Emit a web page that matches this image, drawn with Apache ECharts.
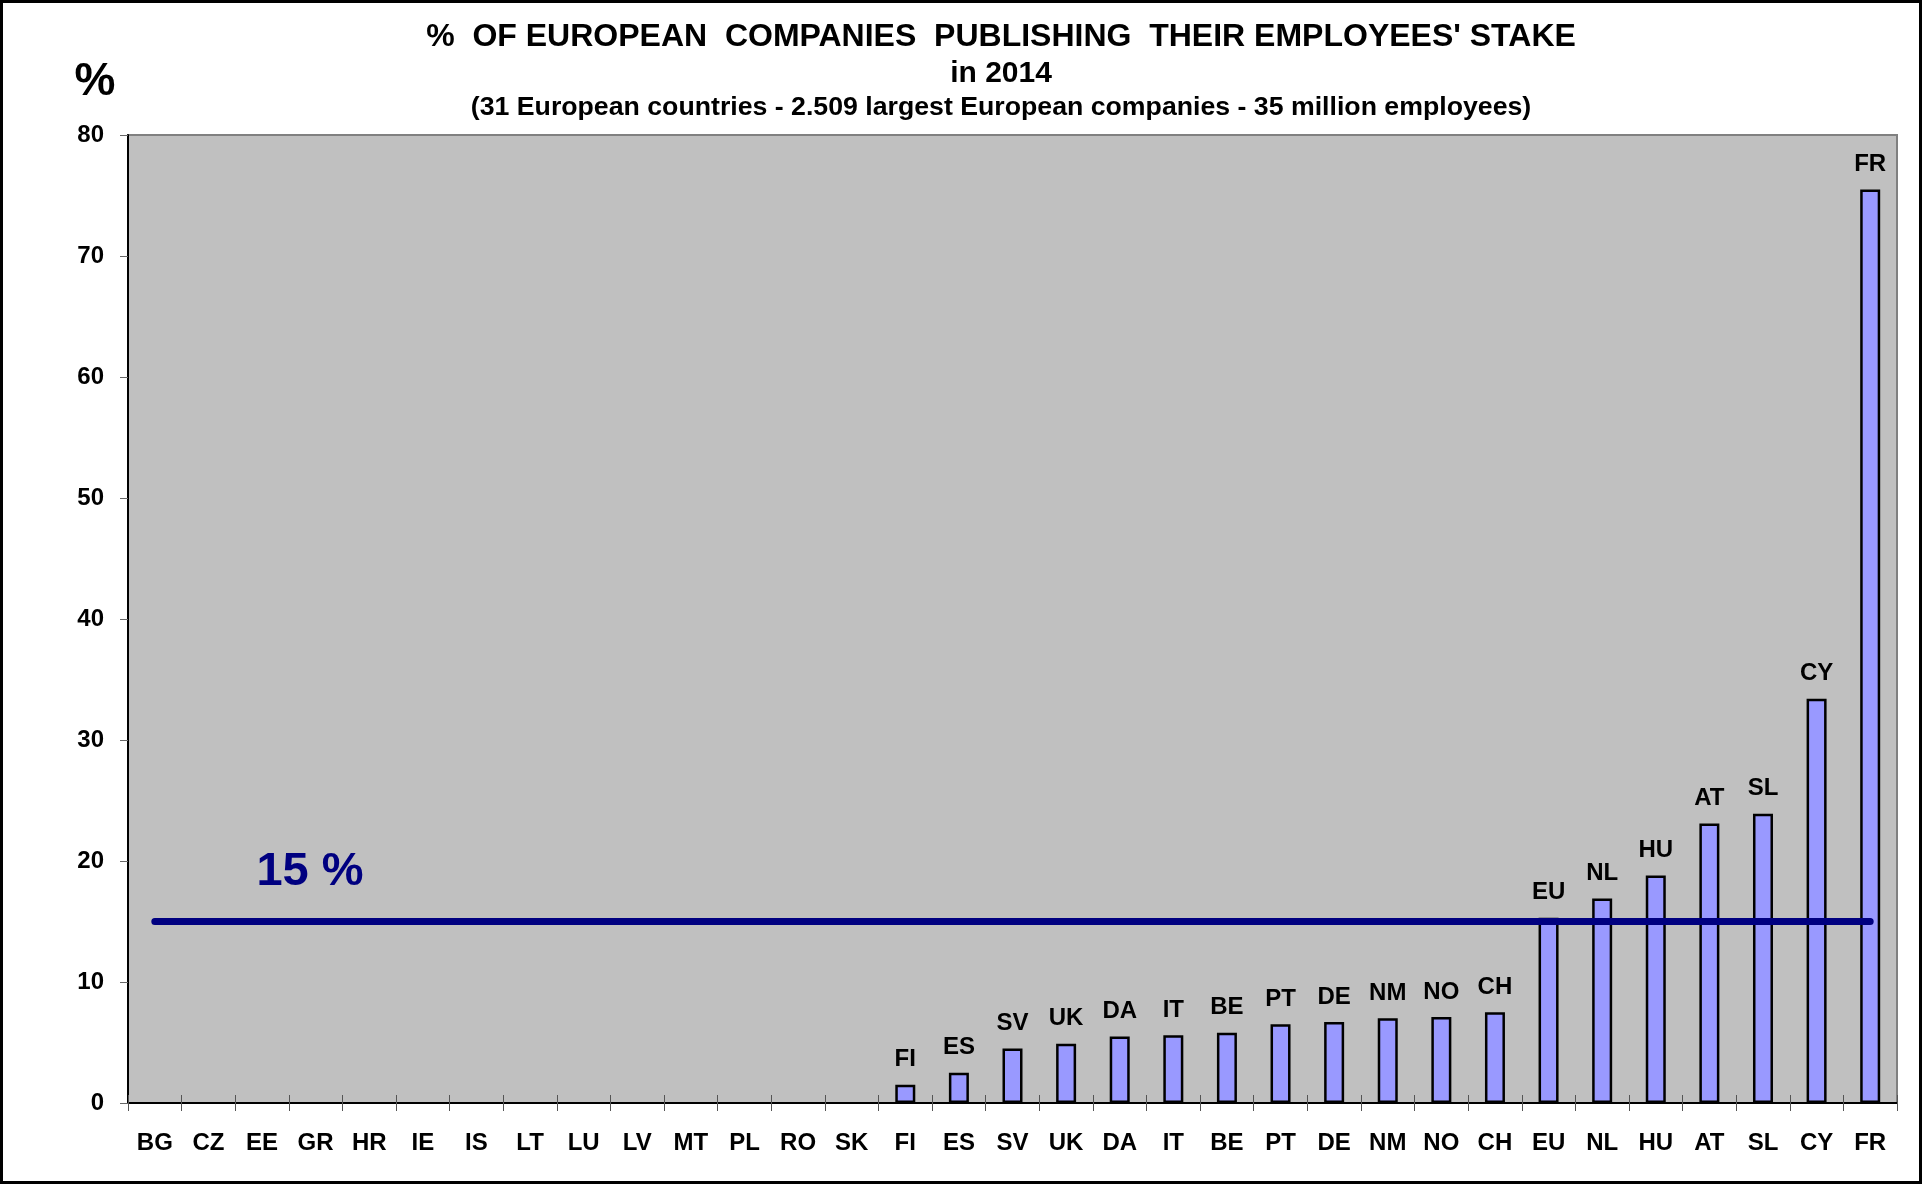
<!DOCTYPE html>
<html>
<head>
<meta charset="utf-8">
<script src="https://cdn.jsdelivr.net/npm/echarts@6/dist/echarts.min.js"></script>
<style>
html,body{margin:0;padding:0;background:#fff;}
#chart{width:1923px;height:1185px;}
</style>
</head>
<body>
<div id="chart"></div>
<script>
const categories = ['BG','CZ','EE','GR','HR','IE','IS','LT','LU','LV','MT','PL','RO','SK','FI','ES','SV','UK','DA','IT','BE','PT','DE','NM','NO','CH','EU','NL','HU','AT','SL','CY','FR'];
const shares = [0,0,0,0,0,0,0,0,0,0,0,0,0,0,1.5,2.5,4.5,4.9,5.5,5.6,5.8,6.5,6.7,7.0,7.1,7.5,15.3,16.9,18.8,23.1,23.9,33.4,75.5];
const threshold = [15,15,15,15,15,15,15,15,15,15,15,15,15,15,15,15,15,15,15,15,15,15,15,15,15,15,15,15,15,15,15,15,15];
const yTicks = {min:0, max:80, interval:10};
const titleText = "%  OF EUROPEAN  COMPANIES  PUBLISHING  THEIR EMPLOYEES' STAKE";
const titleLine2 = 'in 2014';
const subtitleText = '(31 European countries - 2.509 largest European companies - 35 million employees)';
const thresholdLabel = '15 %';

const F = 'Liberation Sans, Arial, sans-serif';
const chart = echarts.init(document.getElementById('chart'));
chart.setOption({
  backgroundColor:'#ffffff',
  animation:false,
  title:[
    {text:titleText, left:996, top:32, textAlign:'center', textVerticalAlign:'middle',
     textStyle:{fontFamily:F,fontWeight:'bold',fontSize:32,color:'#000'}},
    {text:titleLine2, left:996, top:69, textAlign:'center', textVerticalAlign:'middle',
     textStyle:{fontFamily:F,fontWeight:'bold',fontSize:30,color:'#000'}},
    {text:subtitleText, left:996, top:103, textAlign:'center', textVerticalAlign:'middle',
     textStyle:{fontFamily:F,fontWeight:'bold',fontSize:26.7,color:'#000'}}
  ],
  graphic:[
    {type:'rect', shape:{x:1.5,y:1.5,width:1919,height:1181}, style:{fill:'none',stroke:'#000',lineWidth:3}, z:100},
    {type:'text', x:95, y:82, style:{text:'%', fontFamily:F, fontWeight:'bold', fontSize:46, fill:'#000', align:'center', verticalAlign:'middle'}},
    {type:'text', x:310, y:872, style:{text:thresholdLabel, fontFamily:F, fontWeight:'bold', fontSize:47, fill:'#000080', align:'center', verticalAlign:'middle'}, z:50}
  ],
  grid:{left:128, right:26, top:135, bottom:82, show:true, backgroundColor:'#C0C0C0', borderColor:'#808080', borderWidth:2},
  xAxis:[
    {type:'category', data:categories, boundaryGap:true,
     axisLine:{show:true,lineStyle:{color:'#000',width:2}},
     axisTick:{show:true,length:8,lineStyle:{color:'#555',width:1}},
     axisLabel:{fontFamily:F,fontWeight:'bold',fontSize:24,color:'#000',margin:28,interval:0}},
    {type:'category', data:categories, boundaryGap:true, position:'bottom', gridIndex:0,
     axisLine:{show:false},
     axisTick:{show:true,inside:true,length:8,lineStyle:{color:'#555',width:1}},
     axisLabel:{show:false}}
  ],
  yAxis:{type:'value', min:yTicks.min, max:yTicks.max, interval:yTicks.interval,
    axisLine:{show:true,lineStyle:{color:'#000',width:2}},
    axisTick:{show:true,length:8,lineStyle:{color:'#666',width:1}},
    splitLine:{show:false},
    axisLabel:{fontFamily:F,fontWeight:'bold',fontSize:24,color:'#000',margin:24}},
  series:[
    {type:'bar', data:shares.map(v => v > 0 ? v : {value:v, itemStyle:{borderWidth:0}}), barWidth:20,
     itemStyle:{color:'#9999FF', borderColor:'#000', borderWidth:2.5},
     label:{show:true, position:'top', distance:13, fontFamily:F, fontWeight:'bold', fontSize:24, color:'#000',
       formatter:p => p.value > 0 ? p.name : ''}, z:2},
    {type:'line', data:threshold, symbol:'none', lineStyle:{color:'#000080', width:7, cap:'round'}, z:5}
  ]
});
</script>
</body>
</html>
